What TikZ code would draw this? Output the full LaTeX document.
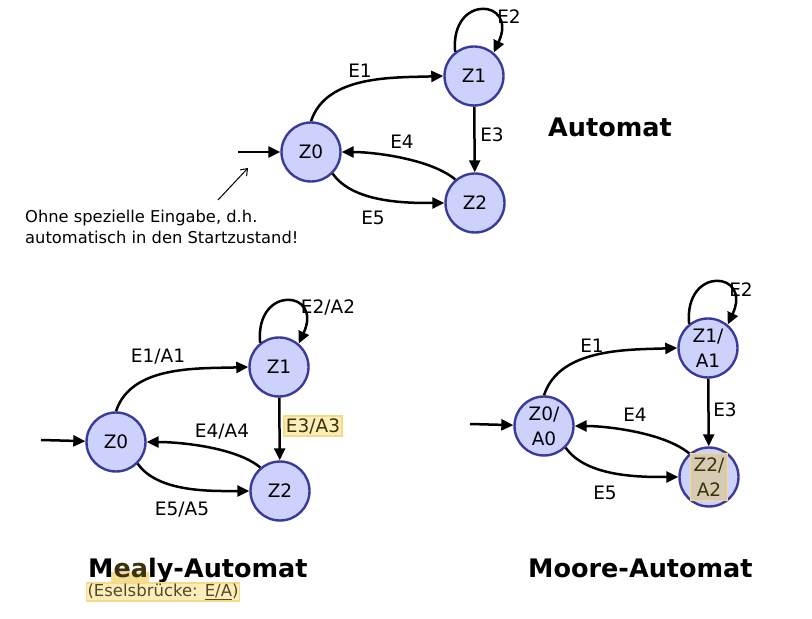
\documentclass[tikz,border=0pt]{standalone}
\usepackage{fontspec}
\setmainfont{DejaVu Sans}
\usetikzlibrary{arrows.meta}
\definecolor{stfill}{RGB}{204,210,251}
\definecolor{stdraw}{RGB}{58,58,154}
\definecolor{hlfill}{RGB}{253,238,185}
\definecolor{hldraw}{RGB}{246,218,135}
\definecolor{hldeep}{RGB}{245,220,144}
\definecolor{hltext}{RGB}{60,50,10}
\definecolor{ebtext}{RGB}{80,72,45}
\definecolor{tanfill}{RGB}{214,203,178}
\tikzset{
  state/.style={circle,draw=stdraw,fill=stfill,line width=2.4pt,minimum size=59pt,inner sep=0pt,font=\fontsize{18.5}{25}\selectfont,align=center},
  edge/.style={line width=2.5pt,-{Triangle[length=12pt,width=11pt]}},
  loopedge/.style={edge,looseness=3.9},
  upedge/.style={edge,out=72,in=182,looseness=0.9},
  lbl/.style={font=\fontsize{18.5}{22}\selectfont,inner sep=1pt},
  hllbl/.style={lbl,fill=hlfill,draw=hldraw,line width=1.8pt,text=hltext,inner sep=2pt},
  titletext/.style={font=\fontsize{25.5}{30}\selectfont\bfseries,inner sep=0pt},
  note/.style={font=\fontsize{16.3}{21}\selectfont,inner sep=0pt,align=left},
  thinarrow/.style={line width=1pt,-{Straight Barb[length=6pt,width=9pt]}},
}
\begin{document}
\begin{tikzpicture}[x=1pt,y=1pt]
\useasboundingbox (0,0) rectangle (812,619);
% ---------------- top: Automat
\begin{scope}[shift={(311,467)}]
  \node[state] (a0) at (0,0) {Z0};
  \node[state] (a1) at (163,76) {Z1};
  \node[state] (a2) at (164,-51) {Z2};
  \coordinate (ain) at (-73,0);
  \draw[edge] (ain) -- (a0);
  \draw[upedge] (a0.north) to (a1.west);
  \draw[loopedge] (a1.128) to[out=95,in=65] (a1.50);
  \draw[edge] (a1) -- (a2);
  \draw[edge] (a2.130) to[out=140,in=0,looseness=0.7] (a0.east);
  \draw[edge] (a0.-45) to[out=-55,in=180,looseness=0.8] (a2.west);
  \node[lbl] (la1) at (49,81) {E1};
  \node[lbl] (la2) at (198,135) {E2};
  \node[lbl] (la3) at (181,17) {E3};
  \node[lbl] (la4) at (91,10) {E4};
  \node[lbl] (la5) at (62,-66) {E5};
\end{scope}
\node[titletext,anchor=base west] (t1) at (548,482) {Automat};
\node[note,anchor=west] (nt) at (25,392) {Ohne spezielle Eingabe, d.h.\\automatisch in den Startzustand!};
\coordinate (ns) at (218,419);
\coordinate (ne) at (248,451);
\draw[thinarrow] (ns) -- (ne);
% ---------------- Mealy
\begin{scope}[shift={(116,177)}]
  \node[state] (b0) at (0,0) {Z0};
  \node[state] (b1) at (163,75) {Z1};
  \node[state] (b2) at (164,-49) {Z2};
  \coordinate (bin) at (-75,2);
  \draw[edge] (bin) -- (b0);
  \draw[upedge] (b0.north) to (b1.west);
  \draw[loopedge] (b1.128) to[out=95,in=65] (b1.50);
  \draw[edge] (b1) -- (b2);
  \draw[edge] (b2.130) to[out=140,in=0,looseness=0.7] (b0.east);
  \draw[edge] (b0.-45) to[out=-55,in=180,looseness=0.8] (b2.west);
  \node[lbl] (lb1) at (42,85) {E1/A1};
  \node[lbl] (lb2) at (212,135) {E2/A2};
  \node[hllbl] (lb3) at (197,16) {E3/A3};
  \node[lbl] (lb4) at (106,10) {E4/A4};
  \node[lbl] (lb5) at (66,-68) {E5/A5};
\end{scope}
\fill[hldeep] (111,36) rectangle (149,47);
\node[titletext,anchor=base west] (t2) at (88,41) {M\textcolor{hltext}{ea}ly-Automat};
\node[font=\fontsize{16.5}{19}\selectfont,fill=hlfill,draw=hldraw,line width=1.4pt,text=ebtext,inner sep=1pt] (eb) at (163,27) {(Eselsbrücke: \underline{E/A})};
% ---------------- Moore
\begin{scope}[shift={(544,193)}]
  \node[state] (c0) at (0,0) {Z0/\\A0};
  \node[state] (c1) at (164,78) {Z1/\\A1};
  \node[state] (c2) at (165,-51) {};
  \node[draw=hldraw,fill=tanfill,line width=1pt,minimum width=37pt,minimum height=47pt,inner sep=0pt,text=hltext,align=center,font=\fontsize{18.5}{25}\selectfont] (c2t) at (c2) {Z2/\\A2};
  \coordinate (cin) at (-74,2);
  \draw[edge] (cin) -- (c0);
  \draw[upedge] (c0.north) to (c1.west);
  \draw[loopedge] (c1.128) to[out=95,in=65] (c1.50);
  \draw[edge] (c1) -- (c2);
  \draw[edge] (c2.130) to[out=140,in=0,looseness=0.7] (c0.east);
  \draw[edge] (c0.-45) to[out=-55,in=180,looseness=0.8] (c2.west);
  \node[lbl] (lc1) at (48,80) {E1};
  \node[lbl] (lc2) at (197,136) {E2};
  \node[lbl] (lc3) at (181,16) {E3};
  \node[lbl] (lc4) at (91,11) {E4};
  \node[lbl] (lc5) at (61,-67) {E5};
\end{scope}
\node[titletext,anchor=base west] (t3) at (528,41) {Moore-Automat};
\end{tikzpicture}
\end{document}
